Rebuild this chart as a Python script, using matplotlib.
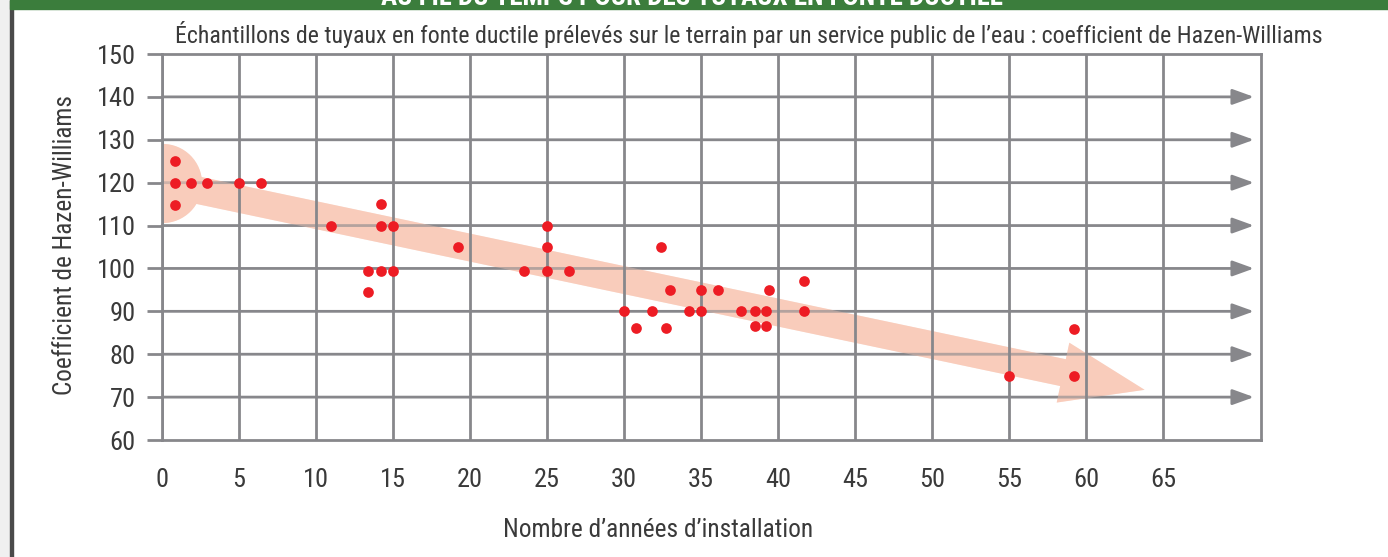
import matplotlib
matplotlib.use("Agg")
import matplotlib.pyplot as plt
from matplotlib.patches import FancyArrowPatch, ArrowStyle, Rectangle
from matplotlib.lines import Line2D

plt.rcParams['font.family'] = ['Roboto Condensed', 'Archivo Narrow', 'Open Sans', 'DejaVu Sans']
plt.rcParams['font.stretch'] = 'condensed'

# samples: (age in years, Hazen-Williams C)
years = [0.85, 0.85, 0.85, 1.9, 2.9, 5, 6.4,
         11, 13.4, 13.4, 14.2, 14.2, 14.2, 15, 15,
         19.2, 23.5, 25, 25, 25, 26.4,
         30, 30.8, 31.8, 32.4, 33, 32.7, 34.2, 35, 35, 36.1,
         37.6, 38.5, 38.5, 39.2, 39.2, 39.4, 41.7, 41.7,
         55, 59.2, 59.2]
coef_c = [125, 120, 114.7, 120, 120, 120, 120,
          110, 99.5, 94.5, 115, 110, 99.5, 110, 99.5,
          105, 99.5, 110, 105, 99.5, 99.5,
          90, 86, 90, 105, 95, 86, 90, 95, 90, 95,
          90, 90, 86.5, 90, 86.5, 95, 97, 90,
          75, 85.8, 75]

x_ticks = [0, 5, 10, 15, 20, 25, 30, 35, 40, 45, 50, 55, 60, 65]
y_ticks = [60, 70, 80, 90, 100, 110, 120, 130, 140, 150]
arrow_rows = [70, 80, 90, 100, 110, 120, 130, 140]

# trend arrow (start / tip in data units)
trend_start = (0, 120)
trend_tip = (63.8, 71.7)

grid_col = '#87878b'
text_col = '#3a3a3a'
band_col = '#f9ccbb'
dot_col = '#ed1c24'

fig = plt.figure(figsize=(13.88, 5.57), dpi=100)
W, H = 1388, 557


def fit_width(txt, target_px, vertical=False):
    # scale the font so the text spans target_px like in the original
    r = fig.canvas.get_renderer()
    bb = txt.get_window_extent(r)
    size = bb.height if vertical else bb.width
    txt.set_fontsize(txt.get_fontsize() * target_px / size)


# page decoration: grey margin, dark rule, green banner
fig.patches.append(Rectangle((0, 0), 10 / W, 1, transform=fig.transFigure,
                             color='#f0f0f0', zorder=0))
fig.patches.append(Rectangle((10 / W, 0), 3 / W, 1, transform=fig.transFigure,
                             color='#4a4a4a', zorder=1))
fig.patches.append(Rectangle((10 / W, (H - 8.5) / H), 1, 8.5 / H,
                             transform=fig.transFigure, color='#3b7d3c', zorder=2))
banner = fig.text(692 / W, (H - 5) / H, "AU FIL DU TEMPS POUR DES TUYAUX EN FONTE DUCTILE",
                  ha='center', va='baseline', color='white', fontsize=16, weight='bold', zorder=3)
fit_width(banner, 625)

ax = fig.add_axes([162 / W, (H - 440) / H, (1261 - 162) / W, (440 - 54) / H])
ax.set_xlim(0, 71.36)
ax.set_ylim(60, 150)

for s in ax.spines.values():
    s.set_color(grid_col)
    s.set_linewidth(2)
    s.set_zorder(3)

ax.set_xticks(x_ticks)
ax.set_yticks(y_ticks)
ax.tick_params(axis='both', colors=grid_col, labelcolor=text_col, width=2,
               length=11, labelsize=19)
ax.tick_params(axis='x', pad=9)
ax.tick_params(axis='y', pad=8)
for t in ax.xaxis.get_major_ticks():
    if t.get_loc() == 0:
        t.tick1line.set_visible(False)
for t in ax.yaxis.get_major_ticks():
    if t.get_loc() in (60, 150):
        t.tick1line.set_visible(False)

# vertical grid
ax.grid(axis='x', color=grid_col, linewidth=2)
ax.set_axisbelow(False)
for gl in ax.get_xgridlines():
    gl.set_zorder(2)

# horizontal grid lines ending with arrow heads
for yv in arrow_rows:
    ax.annotate('', xy=(0.9936, yv), xytext=(0, yv),
                xycoords=('axes fraction', 'data'),
                textcoords=('axes fraction', 'data'),
                arrowprops=dict(arrowstyle=ArrowStyle('-|>', head_length=13, head_width=4.7),
                                mutation_scale=1, color=grid_col, lw=2,
                                shrinkA=0, shrinkB=0),
                zorder=2)

# trend band (opaque under the grid) + round start
band_style = ArrowStyle('Simple', head_length=60, head_width=44, tail_width=19.7)
ax.add_patch(FancyArrowPatch(trend_start, trend_tip, arrowstyle=band_style,
                             mutation_scale=1, shrinkA=0, shrinkB=0,
                             color=band_col, lw=0, zorder=1))
ax.add_line(Line2D([trend_start[0]], [trend_start[1]], marker='o', markersize=57,
                   color=band_col, markeredgewidth=0, zorder=1))
# same colour veil on top so the grid looks tinted through the band
ax.add_patch(FancyArrowPatch(trend_start, trend_tip, arrowstyle=band_style,
                             mutation_scale=1, shrinkA=0, shrinkB=0,
                             color=band_col, alpha=0.4, lw=0, zorder=2.5))
ax.add_line(Line2D([trend_start[0]], [trend_start[1]], marker='o', markersize=57,
                   color=band_col, alpha=0.4, markeredgewidth=0, zorder=2.4))

ax.plot(years, coef_c, 'o', color=dot_col, markersize=7.7, markeredgewidth=0, zorder=5)

title = fig.text(748.5 / W, (H - 43) / H,
                 "Échantillons de tuyaux en fonte ductile prélevés sur le terrain par un service public de l’eau : coefficient de Hazen-Williams",
                 ha='center', va='baseline', fontsize=17.5, color=text_col)
fit_width(title, 1147)
ylab = fig.text(65 / W, (H - 245) / H, "Coefficient de Hazen-Williams", rotation=90,
                ha='center', va='center', fontsize=19, color=text_col)
fit_width(ylab, 300, vertical=True)
xlab = fig.text(658.5 / W, (H - 537) / H, "Nombre d’années d’installation",
                ha='center', va='baseline', fontsize=19, color=text_col)
fit_width(xlab, 311)

fig.savefig("out.png", dpi=100)
